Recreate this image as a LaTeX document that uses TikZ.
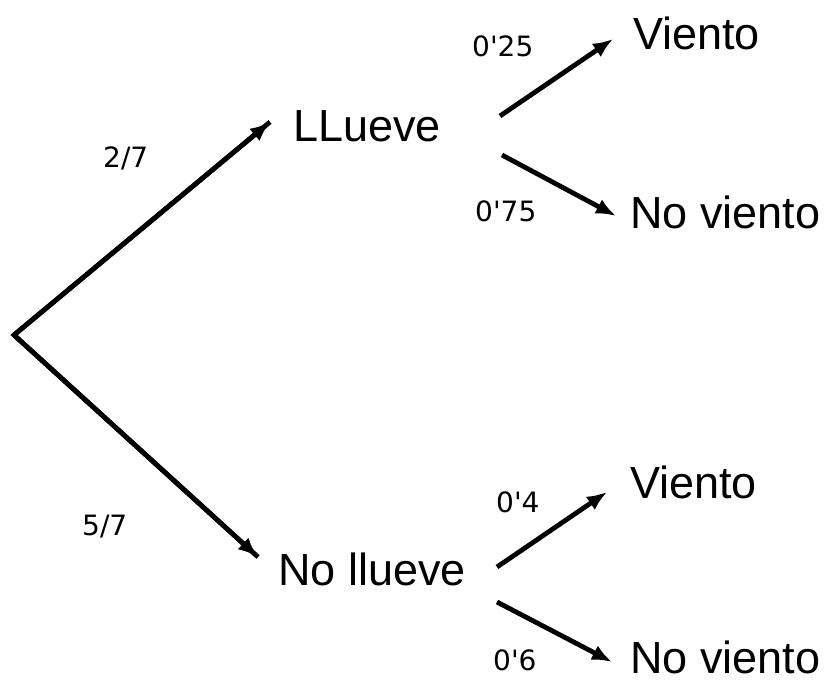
\documentclass[tikz,border=0pt]{standalone}
\usepackage{fontspec}
\setmainfont{Liberation Sans}
\newfontfamily\lblfont{DejaVu Sans}
\usetikzlibrary{arrows.meta}
\begin{document}
\begin{tikzpicture}[x=1pt,y=-1pt,
  arr/.style={line width=4.8pt,-{Latex[length=20pt,width=16pt]}},
  txt/.style={anchor=base west,inner sep=0pt,font=\fontsize{45}{45}\selectfont},
  lbl/.style={anchor=base west,inner sep=0pt,font=\lblfont\fontsize{28}{28}\selectfont}]
\useasboundingbox[fill=white] (0,0) rectangle (824,684);
% text nodes
\node[txt] (LL) at (293,142) {LLueve};
\node[txt] (NL) at (278,585) {No llueve};
\node[txt] (V1) at (633,50) {Viento};
\node[txt] (N1) at (630,229) {No viento};
\node[txt] (V2) at (630,498) {Viento};
\node[txt] (N2) at (630,673) {No viento};
% labels
\node[lbl] (p27) at (103,168) {2/7};
\node[lbl] (p57) at (82,535) {5/7};
\node[lbl] (p025) at (472,57) {0'25};
\node[lbl] (p075) at (475,222) {0'75};
\node[lbl] (p04) at (496,512) {0'4};
\node[lbl] (p06) at (493,670) {0'6};
% connector ends
\coordinate (root) at (14,335);
\coordinate (LLin) at (270,122);
\coordinate (NLin) at (258,557);
\coordinate (LLa) at (500,116);
\coordinate (LLb) at (502,155);
\coordinate (V1in) at (613,39);
\coordinate (N1in) at (616,216);
\coordinate (NLa) at (497,567);
\coordinate (NLb) at (497,602);
\coordinate (V2in) at (607,492);
\coordinate (N2in) at (612,662);
% connectors
\draw[line width=4.8pt,line join=miter] (LLin) -- (root) -- (NLin);
\draw[arr] (root) -- (LLin);
\draw[arr] (root) -- (NLin);
\draw[arr] (LLa) -- (V1in);
\draw[arr] (LLb) -- (N1in);
\draw[arr] (NLa) -- (V2in);
\draw[arr] (NLb) -- (N2in);
\end{tikzpicture}
\end{document}
